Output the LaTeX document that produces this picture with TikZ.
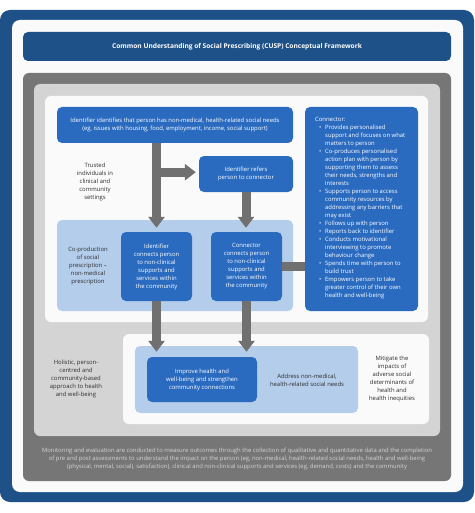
\documentclass[tikz,border=0pt]{standalone}
\usepackage{fontspec}
\setmainfont{Open Sans}
\usetikzlibrary{arrows.meta}
\definecolor{navy}{HTML}{1F5189}
\definecolor{bbox}{HTML}{2A6BC0}
\definecolor{lblue}{HTML}{B4CDEB}
\definecolor{dgray}{HTML}{767676}
\definecolor{lgray}{HTML}{D4D4D4}
\definecolor{wpanel}{HTML}{FAFAFB}
\definecolor{txt}{HTML}{2E2E2E}
\definecolor{agray}{HTML}{707070}
\tikzset{
  sm/.style={font=\fontsize{5.9}{8}\selectfont, align=center, text=txt, inner sep=0pt},
  bluebox/.style={fill=bbox, rounded corners=5pt, draw=none},
  wt/.style={font=\fontsize{5.9}{8}\selectfont, align=center, text=white, inner sep=0pt},
  fat/.style={draw=agray, line width=9pt},
  fatarrow/.style={draw=agray, line width=9pt, -{Triangle[width=16pt,length=11pt]}},
}
\begin{document}
\begin{tikzpicture}[x=1pt,y=-1pt]
\useasboundingbox (0,0) rectangle (474,513);
% frames
\fill[navy, rounded corners=10pt] (0,10) rectangle (474,502);
\fill[wpanel, rounded corners=8pt] (12,20) rectangle (463,492);
\node[fill=navy, rounded corners=5pt, minimum width=428pt, minimum height=29pt, inner sep=0pt,
  text=white, font=\fontsize{6.6}{8}\selectfont\bfseries] (title) at (237,46.5)
  {Common Understanding of Social Prescribing (CUSP) Conceptual Framework};
\fill[dgray, rounded corners=6pt] (23,73) rectangle (451,481);
\fill[lgray, rounded corners=6pt] (34,84) rectangle (440,436);
\fill[wpanel, rounded corners=6pt] (45,96) rectangle (428,322);
\fill[lblue, rounded corners=5pt] (57,220) rectangle (293,311);
\fill[wpanel, rounded corners=6pt] (123,334) rectangle (429,424);
\fill[lblue, rounded corners=5pt] (135,346) rectangle (358,413);

% upper boxes
\node[bluebox, minimum width=236pt, minimum height=36pt, inner sep=0pt] (ident) at (175,125) {};
\node[wt] at (ident) {Identifier identifies that person has non-medical, health-related social needs\\(eg, issues with housing, food, employment, income, social support)};
\node[bluebox, minimum width=94pt, minimum height=36pt, inner sep=0pt] (refer) at (246,174) {};
\node[wt] at (refer) {Identifier refers\\person to connector};
\node[sm] (trusted) at (95,182) {Trusted\\individuals in\\clinical and\\community\\settings};

\node[bluebox, minimum width=71pt, minimum height=69pt, inner sep=0pt] (idc) at (156.5,266.5) {};
\node[wt] at (idc) {Identifier\\connects person\\to non-clinical\\supports and\\services within\\the community};
\node[bluebox, minimum width=71pt, minimum height=69pt, inner sep=0pt] (ccn) at (246.5,266.5) {};
\node[wt] at (ccn) {Connector\\connects person\\to non-clinical\\supports and\\services within\\the community};
\node[sm] (coprod) at (88,266) {Co-production\\of social\\prescription –\\non-medical\\prescription};

% connector box
\node[bluebox, minimum width=113pt, minimum height=204pt, inner sep=0pt] (conn) at (361.5,209) {};
\node[font=\fontsize{5.9}{8}\selectfont, align=left, text=white, inner sep=0pt, anchor=north west] (conntxt) at (315,117.2)
{Connector:\\
\hspace*{4pt}\makebox[6pt][l]{•}Provides personalised\\
\hspace*{10pt}support and focuses on what\\
\hspace*{10pt}matters to person\\
\hspace*{4pt}\makebox[6pt][l]{•}Co-produces personalised\\
\hspace*{10pt}action plan with person by\\
\hspace*{10pt}supporting them to assess\\
\hspace*{10pt}their needs, strengths and\\
\hspace*{10pt}interests\\
\hspace*{4pt}\makebox[6pt][l]{•}Supports person to access\\
\hspace*{10pt}community resources by\\
\hspace*{10pt}addressing any barriers that\\
\hspace*{10pt}may exist\\
\hspace*{4pt}\makebox[6pt][l]{•}Follows up with person\\
\hspace*{4pt}\makebox[6pt][l]{•}Reports back to identifier\\
\hspace*{4pt}\makebox[6pt][l]{•}Conducts motivational\\
\hspace*{10pt}interviewing to promote\\
\hspace*{10pt}behaviour change\\
\hspace*{4pt}\makebox[6pt][l]{•}Spends time with person to\\
\hspace*{10pt}build trust\\
\hspace*{4pt}\makebox[6pt][l]{•}Empowers person to take\\
\hspace*{10pt}greater control of their own\\
\hspace*{10pt}health and well-being};

% lower
\node[bluebox, minimum width=110pt, minimum height=45pt, inner sep=0pt] (improve) at (202,379.5) {};
\node[wt] at (improve) {Improve health and\\well-being and strengthen\\community connections};
\node[sm] (address) at (307,380) {Address non-medical,\\health-related social needs};
\node[sm] (holistic) at (76,379) {Holistic, person-\\centred and\\community-based\\approach to health\\and well-being};
\node[sm] (mitigate) at (392,379) {Mitigate the\\impacts of\\adverse social\\determinants of\\health and\\health inequities};

% bottom text
\node[font=\fontsize{5.9}{8}\selectfont, align=center, text=lgray, inner sep=0pt] (monitor) at (237,459)
{Monitoring and evaluation are conducted to measure outcomes through the collection of qualitative and quantitative data and the completion\\
of pre and post assessments to understand the impact on the person (eg, non-medical, health-related social needs, health and well-being\\
(physical, mental, social), satisfaction), clinical and non-clinical supports and services (eg, demand, costs) and the community};

% connectors
\coordinate (branch) at (ident.south -| idc.north);
\path (branch) ++(0,29) coordinate (bpt);
\draw[fatarrow, shorten >=4pt] (ident.south -| idc.north) -- (idc.north);
\draw[fatarrow, shorten >=3pt] (bpt) -- (bpt -| refer.west);
\draw[fatarrow, shorten >=4pt] (refer.south) -- (refer.south |- ccn.north);
\draw[fatarrow, shorten >=5pt] (idc.south) -- (idc.south |- improve.north);
\draw[fatarrow, shorten >=5pt] (ccn.south) -- (ccn.south |- improve.north);
\draw[fat] (ccn.east) -- (ccn.east -| conn.west);
\end{tikzpicture}
\end{document}
